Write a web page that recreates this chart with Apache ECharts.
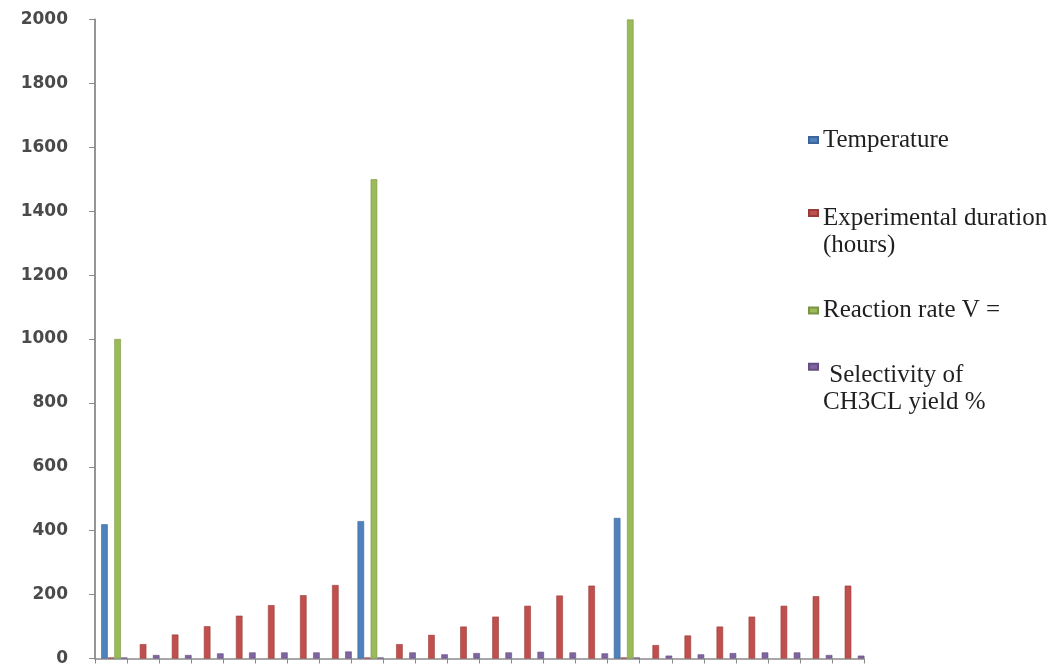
<!DOCTYPE html>
<html>
<head>
<meta charset="utf-8">
<title>Reaction runs</title>
<script src="https://cdn.jsdelivr.net/npm/echarts@6/dist/echarts.min.js"></script>
<style>
  html, body { margin: 0; padding: 0; background: #ffffff; }
  #chart { width: 1056px; height: 667px; }
</style>
</head>
<body>
<div id="chart"></div>
<script>
// Three experiment blocks of eight runs each
const categories = [
  'A1', 'A2', 'A3', 'A4', 'A5', 'A6', 'A7', 'A8',
  'B1', 'B2', 'B3', 'B4', 'B5', 'B6', 'B7', 'B8',
  'C1', 'C2', 'C3', 'C4', 'C5', 'C6', 'C7', 'C8'
];

const seriesNames = [
  'Temperature',
  'Experimental duration (hours)',
  'Reaction rate V =',
  'Selectivity of CH3CL yield %'
];

// Legend wording, one entry per line
const legendLines = [
  ['Temperature'],
  ['Experimental duration', '(hours)'],
  ['Reaction rate V ='],
  [' Selectivity of', 'CH3CL yield %']
];

const temperature = [
  420, null, null, null, null, null, null, null,
  430, null, null, null, null, null, null, null,
  440, null, null, null, null, null, null, null
];

const duration = [
  3, 45, 75, 101, 134, 167, 198, 230,
  3, 45, 74, 100, 131, 165, 197, 228,
  3, 42, 72, 100, 131, 165, 195, 228
];

const reactionRate = [
  1000, null, null, null, null, null, null, null,
  1500, null, null, null, null, null, null, null,
  2000, null, null, null, null, null, null, null
];

const selectivity = [
  3, 11, 11, 16, 19, 19, 19, 22,
  3, 19, 13, 17, 19, 21, 19, 16,
  3, 9, 13, 17, 19, 19, 11, 9
];

const yTicks = [0, 200, 400, 600, 800, 1000, 1200, 1400, 1600, 1800, 2000];

const colors = ['#4F81BD', '#C0504D', '#9BBB59', '#8064A2'];
const borderColors = ['#3b6596', '#983c3a', '#7a9446', '#644e80'];

const axisGray = '#8a8a8a';
const LINE_H = 27;

// Plot frame: axes live on grid 0, the bar clusters on grid 1,
// which is nudged right so each cluster sits toward the right of its slot.
const PLOT = { left: 95, top: 19.5, width: 769, height: 639 };
const CLUSTER_SHIFT = 3.3;

// One legend block per series; a spacer line on top lets the marker
// sit level with the first line of a two-line name.
function legendItem(index, top, spacer) {
  const lines = legendLines[index];
  const body = lines.map(function (s) { return '{t|' + s + '}'; }).join('\n');
  const text = spacer ? '{sp| }\n' + body : body;
  return {
    data: [seriesNames[index]],
    orient: 'vertical',
    left: 808,
    top: top,
    padding: 0,
    itemWidth: 9,
    itemHeight: 6,
    icon: 'rect',
    selectedMode: false,
    formatter: function () { return text; },
    textStyle: {
      fontFamily: 'Liberation Serif',
      fontSize: 25,
      color: '#1f1f1f',
      lineHeight: LINE_H,
      rich: {
        t: { fontFamily: 'Liberation Serif', fontSize: 25, color: '#1f1f1f', lineHeight: LINE_H },
        sp: { fontFamily: 'Liberation Serif', fontSize: 10, lineHeight: spacer || LINE_H }
      }
    }
  };
}

const chart = echarts.init(document.getElementById('chart'), null, { renderer: 'canvas' });

const seriesData = [temperature, duration, reactionRate, selectivity];
const yMin = yTicks[0];
const yMax = yTicks[yTicks.length - 1];

function gridBox(shift) {
  return {
    left: PLOT.left + shift,
    top: PLOT.top,
    width: PLOT.width,
    height: PLOT.height,
    containLabel: false,
    outerBoundsMode: 'none'
  };
}

chart.setOption({
  animation: false,
  backgroundColor: '#ffffff',
  color: colors,
  legend: [
    legendItem(0, 126.5, 0),
    legendItem(1, 167.5, 37),
    legendItem(2, 297, 0),
    legendItem(3, 317.7, 44)
  ],
  grid: [gridBox(0), gridBox(CLUSTER_SHIFT)],
  xAxis: [
    {
      gridIndex: 0,
      type: 'category',
      data: categories,
      boundaryGap: true,
      axisLine: { show: true, lineStyle: { color: axisGray, width: 1.6 } },
      axisTick: { show: true, interval: 0, length: 5, lineStyle: { color: axisGray, width: 1 } },
      axisLabel: { show: false },
      splitLine: { show: false }
    },
    {
      gridIndex: 1,
      type: 'category',
      data: categories,
      boundaryGap: true,
      axisLine: { show: false },
      axisTick: { show: false },
      axisLabel: { show: false },
      splitLine: { show: false }
    }
  ],
  yAxis: [
    {
      gridIndex: 0,
      type: 'value',
      min: yMin,
      max: yMax,
      interval: yTicks[1] - yTicks[0],
      axisLine: { show: true, lineStyle: { color: axisGray, width: 1.8 } },
      axisTick: { show: true, length: 6, lineStyle: { color: axisGray, width: 1 } },
      axisLabel: {
        margin: 27,
        fontFamily: 'DejaVu Sans',
        fontSize: 17,
        fontWeight: 'bold',
        color: '#4a4a4a',
        formatter: function (v) { return String(v); }
      },
      splitLine: { show: false }
    },
    {
      gridIndex: 1,
      type: 'value',
      min: yMin,
      max: yMax,
      interval: yTicks[1] - yTicks[0],
      axisLine: { show: false },
      axisTick: { show: false },
      axisLabel: { show: false },
      splitLine: { show: false }
    }
  ],
  series: seriesNames.map(function (name, i) {
    return {
      name: name,
      type: 'bar',
      xAxisIndex: 1,
      yAxisIndex: 1,
      data: seriesData[i],
      barGap: '0%',
      barCategoryGap: '18%',
      itemStyle: {
        color: colors[i],
        borderColor: borderColors[i],
        borderWidth: 0.6
      }
    };
  })
});
</script>
</body>
</html>
